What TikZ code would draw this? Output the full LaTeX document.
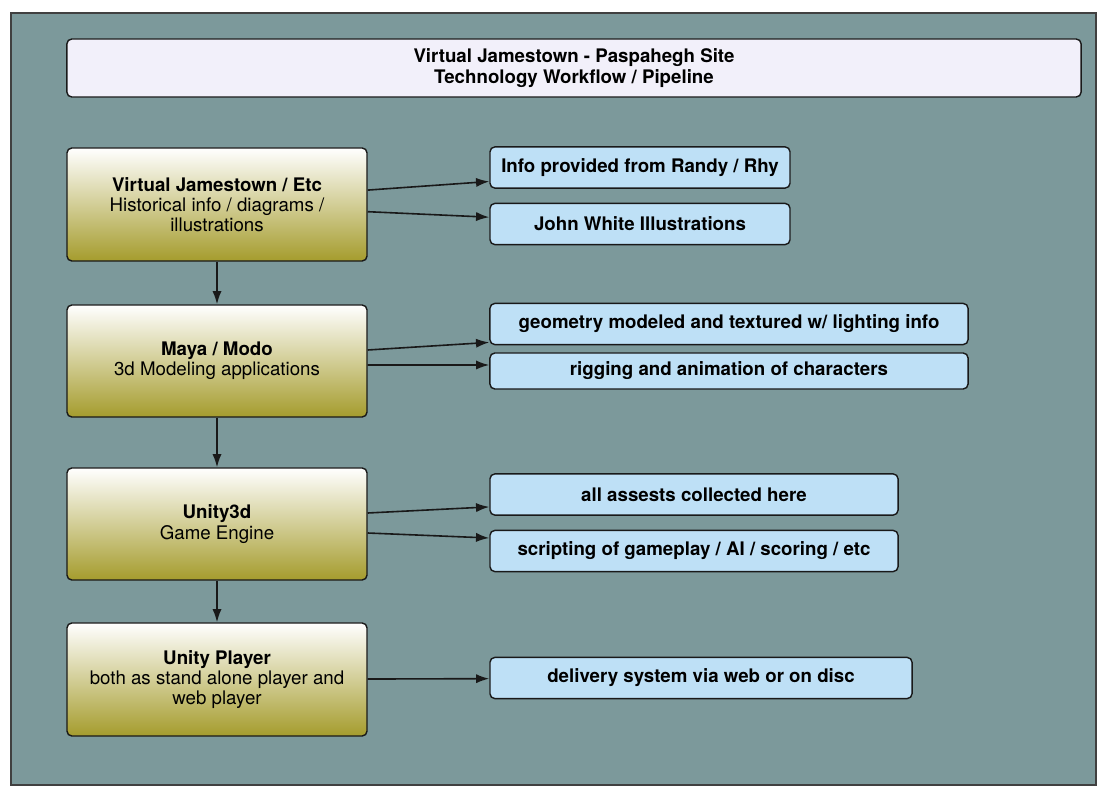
\documentclass[tikz,border=0pt]{standalone}
\usepackage{fontspec}
\setmainfont{TeX Gyre Heros}
\usepackage{xcolor}
\usetikzlibrary{arrows.meta}

\definecolor{panelgray}{RGB}{124,153,155}
\definecolor{stepolive}{RGB}{165,156,45}
\definecolor{stepmid}{RGB}{210,205,120}
\definecolor{notesky}{RGB}{190,224,246}
\definecolor{titlewhite}{RGB}{242,240,250}

\tikzset{
    stagebox/.style={draw=black!90, line width=0.35mm, rounded corners=3.5pt,
        top color=white, middle color=stepmid, bottom color=stepolive,
        minimum width=7.5cm, minimum height=2.8cm, align=center,
        font=\fontsize{13.3}{14.4}\selectfont},
    notebox/.style={draw=black!90, line width=0.35mm, rounded corners=3.5pt,
        fill=notesky, minimum height=1.03cm, align=center,
        font=\fontsize{13.3}{14.4}\selectfont\bfseries},
    flow/.style={line width=0.4mm, -{Latex[length=3.3mm,width=2.3mm]}, black!90}
}

\begin{document}
\begin{tikzpicture}[x=0.025cm, y=-0.025cm]
    \useasboundingbox (0,0) rectangle (1098,787);
    \fill[white] (0,0) rectangle (1098,787);
    \draw[line width=0.35mm, fill=panelgray, draw=black!75] (11,13) rectangle (1096,785);

    % title
    \node[draw=black!90, line width=0.35mm, rounded corners=3.5pt, fill=titlewhite,
          minimum width=25.35cm, minimum height=1.45cm, align=center,
          font=\fontsize{13.3}{14.6}\selectfont\bfseries] (title) at (574,68)
          {Virtual Jamestown - Paspahegh Site\\Technology Workflow / Pipeline};

    % pipeline stages
    \node[stagebox, minimum height=2.825cm] (vj) at (217,204.5)
          {\textbf{Virtual Jamestown / Etc}\\Historical info / diagrams /\\illustrations};
    \node[stagebox] (maya) at (217,361) {\textbf{Maya / Modo}\\3d Modeling applications};
    \node[stagebox] (unity) at (217,524) {\textbf{Unity3d}\\Game Engine};
    \node[stagebox, minimum height=2.825cm] (player) at (217,679.5)
          {\textbf{Unity Player}\\both as stand alone player and\\web player};

    % notes
    \node[notebox, minimum width=7.5cm] (randy) at (640,167.5) {Info provided from Randy / Rhy};
    \node[notebox, minimum width=7.5cm] (white) at (640,224) {John White Illustrations};
    \node[notebox, minimum width=11.95cm] (geom) at (729,324) {geometry modeled and textured w/ lighting info};
    \node[notebox, minimum width=11.95cm, minimum height=0.9cm] (rig) at (729,371) {rigging and animation of characters};
    \node[notebox, minimum width=10.2cm] (assets) at (694,494.5) {all assests collected here};
    \node[notebox, minimum width=10.2cm] (script) at (694,551) {scripting of gameplay / AI / scoring / etc};
    \node[notebox, minimum width=10.55cm] (deliver) at (701,678) {delivery system via web or on disc};

    % connectors
    \draw[flow] (vj) -- (maya);
    \draw[flow] (maya) -- (unity);
    \draw[flow] (unity) -- (player);

    \draw[flow] ([yshift=0.36cm]vj.east) -- ([yshift=-0.35cm]randy.west);
    \draw[flow] ([yshift=-0.18cm]vj.east) -- ([yshift=0.17cm]white.west);
    \draw[flow] ([yshift=0.275cm]maya.east) -- ([yshift=-0.46cm]geom.west);
    \draw[flow] ([yshift=-0.1cm]maya.east) -- ([yshift=0.15cm]rig.west);
    \draw[flow] ([yshift=0.275cm]unity.east) -- ([yshift=-0.31cm]assets.west);
    \draw[flow] ([yshift=-0.225cm]unity.east) -- ([yshift=0.325cm]script.west);
    \draw[flow] (player) -- (deliver);
\end{tikzpicture}
\end{document}
